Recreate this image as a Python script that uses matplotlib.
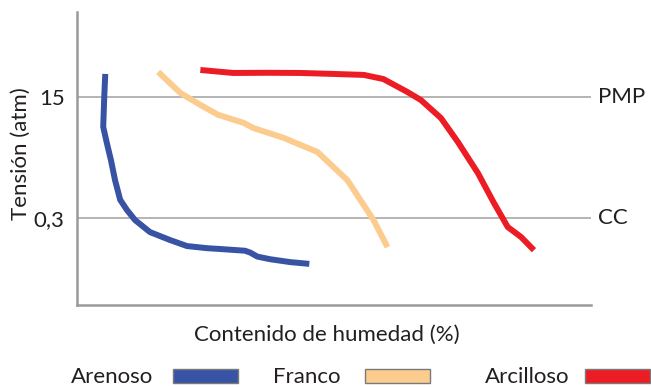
import matplotlib.pyplot as plt
from matplotlib.patches import Rectangle

plt.rcParams['font.family'] = ['Lato', 'DejaVu Sans']
txt = '#231f20'

# curvas de retención: humedad (%) vs tensión (atm)
arenoso_x = [5.5, 5.3, 5.1, 5.8, 6.6, 7.4, 8.4, 9.7, 11.3, 14.2, 18.1, 21.4, 25.3, 27.9,
             32.7, 33.7, 35.1, 37.6, 41.5, 45.2]
arenoso_y = [31.6, 15, 5.7, 3.4, 1.95, 1.02, 0.54, 0.39, 0.28, 0.19, 0.147, 0.121, 0.113, 0.11,
             0.104, 0.098, 0.086, 0.079, 0.072, 0.068]

franco_x = [15.8, 20.1, 24.0, 27.5, 32.4, 34.3, 40.2, 46.8, 52.6, 57.7, 60.4]
franco_y = [33.7, 17.1, 11.6, 8.4, 6.5, 5.5, 4.0, 2.53, 1.02, 0.28, 0.117]

arcilloso_x = [24.0, 30.4, 37.0, 43.5, 49.9, 55.8, 59.6, 64.3, 66.9, 70.8, 74.1, 78.0, 81.1,
               83.8, 86.4, 88.9]
arcilloso_y = [35.9, 32.6, 32.8, 32.6, 31.6, 30.6, 26.8, 17.6, 13.6, 7.6, 3.5, 1.28, 0.49,
               0.224, 0.162, 0.106]

niveles = [15, 0.3]
niveles_txt = ['15', '0,3']
niveles_nombre = ['PMP', 'CC']

nombres = ['Arenoso', 'Franco', 'Arcilloso']
colores = ['#3953a4', '#fccb8e', '#ec1c24']

fig = plt.figure(figsize=(6.51, 3.87), dpi=100)
ax = fig.add_axes([77 / 651, 1 - 305 / 387, (591 - 77) / 651, (305 - 12) / 387])

for v in niveles:
    ax.axhline(v, color='#a0a0a0', lw=1.1, zorder=1)

series = [(arenoso_x, arenoso_y), (franco_x, franco_y), (arcilloso_x, arcilloso_y)]
for (xs, ys), c in zip(series, colores):
    ax.plot(xs, ys, color=c, lw=4.3, solid_capstyle='butt', solid_joinstyle='round', zorder=3)

ax.set_yscale('log')
ax.set_xlim(0, 100)
ax.set_ylim(0.018, 234)
ax.minorticks_off()
ax.set_yticks(niveles)
ax.set_yticklabels(niveles_txt)
ax.set_xticks([])
ax.tick_params(axis='y', length=0, pad=9, labelsize=16, labelcolor=txt)

for s in ['top', 'right']:
    ax.spines[s].set_visible(False)
for s in ['left', 'bottom']:
    ax.spines[s].set_color('#9a9a9a')
    ax.spines[s].set_linewidth(1.8)

fig.text(21 / 651, 1 - 154 / 387, 'Tensión (atm)', rotation=90, ha='center', va='center',
         fontsize=16, color=txt)

for v, n in zip(niveles, niveles_nombre):
    ax.annotate(n, xy=(1, v), xycoords=('axes fraction', 'data'), xytext=(5, 0),
                textcoords='offset points', va='center', ha='left', fontsize=16, color=txt)

fig.text(327 / 651, 1 - 335 / 387, 'Contenido de humedad (%)', ha='center', va='center',
         fontsize=16, color=txt)

# leyenda
txt_x = [71, 273, 485]
rect_x = [173, 365, 585]
for n, c, tx, rx in zip(nombres, colores, txt_x, rect_x):
    fig.text(tx / 651, 1 - 377 / 387, n, ha='left', va='center', fontsize=16, color=txt)
    fig.patches.append(Rectangle((rx / 651, 1 - 383 / 387), 65 / 651, 14 / 387,
                                 transform=fig.transFigure, facecolor=c,
                                 edgecolor='#7a7a7a', lw=1))

fig.savefig('out.png', dpi=100)
